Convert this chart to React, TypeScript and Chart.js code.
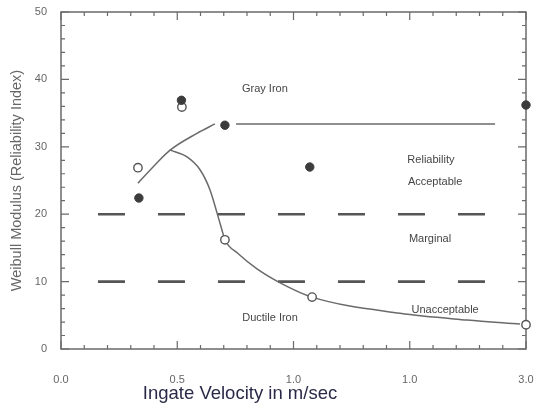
import React, { useEffect, useRef } from 'react';
import { Chart, registerables } from 'chart.js';

Chart.register(...registerables);

// ---- data ----
const xTickLabels = ['0.0', '0.5', '1.0', '1.0', '3.0'];

// measured points (filled = gray iron, open = ductile iron)
const grayIronX = [0.335, 0.518, 0.705, 1.07, 2.0];
const grayIronY = [22.4, 36.9, 33.2, 27.0, 36.2];
const ductileIronX = [0.331, 0.52, 0.705, 1.08, 2.0];
const ductileIronY = [26.9, 35.9, 16.2, 7.7, 3.6];

// hand-drawn trend curves
const grayCurveX = [0.331, 0.404, 0.469, 0.585, 0.662];
const grayCurveY = [24.6, 27.3, 29.5, 32.0, 33.4];
const grayPlateauX = [0.753, 1.867];
const grayPlateauY = [33.4, 33.4];
const ductileCurveX = [0.469, 0.542, 0.598, 0.641, 0.671, 0.692, 0.705, 0.76, 0.843, 0.955, 1.08, 1.458, 1.746, 1.974];
const ductileCurveY = [29.5, 28.5, 26.6, 23.6, 20.2, 17.7, 16.2, 14.2, 11.9, 9.6, 7.7, 5.3, 4.3, 3.7];

// reliability limits
const limitX = [0.159, 1.832];
const acceptableLimitY = [20, 20];
const marginalLimitY = [10, 10];

// region annotations (data coordinates)
const regionLabels = [
  { text: 'Gray Iron', x: 0.877, y: 38.6 },
  { text: 'Reliability', x: 1.591, y: 28.0 },
  { text: 'Acceptable', x: 1.609, y: 24.8 },
  { text: 'Marginal', x: 1.587, y: 16.3 },
  { text: 'Unacceptable', x: 1.652, y: 5.8 },
  { text: 'Ductile Iron', x: 0.899, y: 4.6 },
];

const yTitle = 'Weibull Modulus (Reliability Index)';
const xTitle = 'Ingate Velocity in m/sec';

const pts = (xs: number[], ys: number[]) => xs.map((x, i) => ({ x, y: ys[i] }));

const FONT = '"Liberation Sans", Arial, sans-serif';

const framePlugin = {
  id: 'frame',
  beforeDatasetsDraw(chart: any) {
    const { ctx, chartArea: a, scales } = chart;
    const x = scales.x;
    const y = scales.y;
    ctx.save();
    ctx.strokeStyle = '#6a6a6a';
    ctx.lineWidth = 1.5;
    ctx.strokeRect(a.left, a.top, a.right - a.left, a.bottom - a.top);
    ctx.lineWidth = 1.2;
    ctx.beginPath();
    for (let i = 0; i <= 20; i++) {
      const px = x.getPixelForValue(i * 0.1);
      const len = i % 5 === 0 ? 8 : 4;
      ctx.moveTo(px, a.bottom);
      ctx.lineTo(px, a.bottom - len);
      ctx.moveTo(px, a.top);
      ctx.lineTo(px, a.top + len);
    }
    for (let i = 0; i <= 25; i++) {
      const py = y.getPixelForValue(i * 2);
      const len = i % 5 === 0 ? 8 : 4;
      ctx.moveTo(a.left, py);
      ctx.lineTo(a.left + len, py);
      ctx.moveTo(a.right, py);
      ctx.lineTo(a.right - len, py);
    }
    ctx.stroke();
    ctx.restore();
  },
  afterDraw(chart: any) {
    const { ctx, scales } = chart;
    const x = scales.x;
    const y = scales.y;
    ctx.save();
    ctx.fillStyle = '#454545';
    ctx.font = `11px ${FONT}`;
    ctx.textAlign = 'center';
    ctx.textBaseline = 'middle';
    regionLabels.forEach((l) => {
      ctx.fillText(l.text, x.getPixelForValue(l.x), y.getPixelForValue(l.y));
    });
    ctx.fillStyle = '#2a2a48';
    ctx.font = `18.5px ${FONT}`;
    ctx.fillText(xTitle, 240, 394);
    ctx.restore();
  },
};

const zeroPad = (s: any) => {
  s.paddingTop = 0;
  s.paddingBottom = 0;
  s.paddingLeft = 0;
  s.paddingRight = 0;
};

export default function App() {
  const ref = useRef<HTMLCanvasElement | null>(null);

  useEffect(() => {
    if (!ref.current) return;
    const lineBase = {
      showLine: true,
      pointRadius: 0,
      borderColor: '#6a6a6a',
      borderWidth: 1.5,
      fill: false,
      cubicInterpolationMode: 'monotone' as const,
    };
    const chart = new Chart(ref.current, {
      type: 'scatter',
      data: {
        datasets: [
          {
            label: 'Gray Iron',
            data: pts(grayIronX, grayIronY),
            pointRadius: 4.2,
            pointBackgroundColor: '#3c3c3c',
            pointBorderColor: '#3c3c3c',
            pointBorderWidth: 1,
            clip: false,
          } as any,
          {
            label: 'Ductile Iron',
            data: pts(ductileIronX, ductileIronY),
            pointRadius: 4.2,
            pointBackgroundColor: '#ffffff',
            pointBorderColor: '#555555',
            pointBorderWidth: 1.4,
            clip: false,
          } as any,
          { ...lineBase, label: 'gray curve', data: pts(grayCurveX, grayCurveY) } as any,
          { ...lineBase, label: 'gray plateau', data: pts(grayPlateauX, grayPlateauY) } as any,
          { ...lineBase, label: 'ductile curve', data: pts(ductileCurveX, ductileCurveY) } as any,
          {
            ...lineBase,
            label: 'acceptable limit',
            data: pts(limitX, acceptableLimitY),
            borderColor: '#555555',
            borderWidth: 2.6,
            borderDash: [27, 33],
          } as any,
          {
            ...lineBase,
            label: 'marginal limit',
            data: pts(limitX, marginalLimitY),
            borderColor: '#555555',
            borderWidth: 2.6,
            borderDash: [27, 33],
          } as any,
        ],
      },
      options: {
        responsive: false,
        animation: false,
        devicePixelRatio: 1,
        layout: { padding: { top: 12, right: 10, bottom: 0, left: 0 } },
        plugins: {
          legend: { display: false },
          tooltip: { enabled: false },
        },
        scales: {
          x: {
            type: 'linear',
            min: 0,
            max: 2,
            grid: { display: false, drawTicks: false },
            border: { display: false },
            ticks: {
              stepSize: 0.5,
              autoSkip: false,
              maxRotation: 0,
              padding: 24,
              color: '#666666',
              font: { family: FONT, size: 11 },
              callback: (_v: any, i: number) => xTickLabels[i] ?? '',
            },
            afterFit: (s: any) => {
              s.height = 60;
              zeroPad(s);
            },
          },
          y: {
            type: 'linear',
            min: 0,
            max: 50,
            grid: { display: false, drawTicks: false },
            border: { display: false },
            ticks: {
              stepSize: 10,
              padding: 14,
              color: '#666666',
              font: { family: FONT, size: 11 },
            },
            title: {
              display: true,
              text: yTitle,
              color: '#666666',
              font: { family: FONT, size: 14.5 },
              padding: { top: 8, bottom: 0 },
            },
            afterFit: (s: any) => {
              s.width = 61;
              zeroPad(s);
            },
          },
        },
      } as any,
      plugins: [framePlugin],
    });
    return () => chart.destroy();
  }, []);

  return (
    <div style={{ position: 'fixed', left: 0, top: 0, width: 536, height: 409, background: '#fff' }}>
      <canvas ref={ref} width={536} height={409} />
    </div>
  );
}
